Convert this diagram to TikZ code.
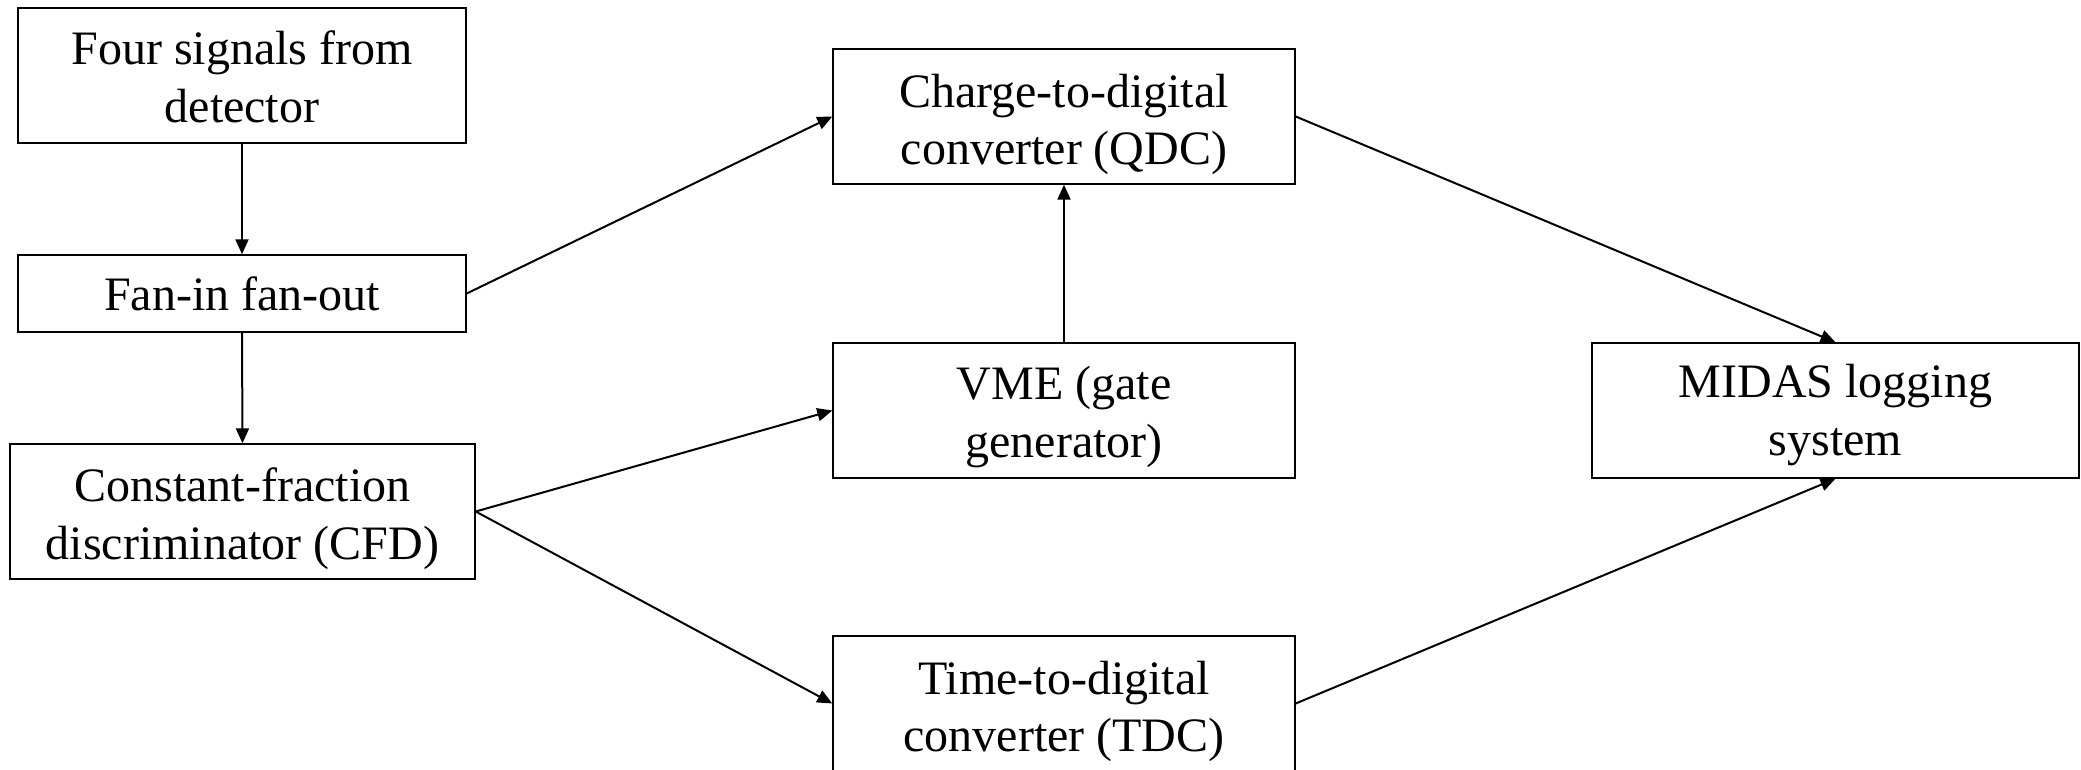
\documentclass[tikz,border=0pt]{standalone}
\usepackage{fontspec}
\setmainfont{Liberation Serif}
\usetikzlibrary{arrows.meta}
\begin{document}
\begin{tikzpicture}[x=1pt,y=-1pt,
  blk/.style={draw=black,line width=1.4pt,inner sep=0pt,minimum height=135pt},
  txt/.style={inner sep=0pt,align=center,font=\fontsize{48}{57.6}\selectfont},
  conn/.style={line width=2pt,-{Triangle[length=15pt,width=13pt]}}]
\useasboundingbox (0,0) rectangle (2081,770);
\node[blk,minimum width=448pt,label={[txt,yshift=-1.4pt]center:Four signals from\\detector}] (four) at (242,75.5) {};
\node[blk,minimum width=448pt,minimum height=77pt,label={[txt]center:Fan-in fan-out}] (fan) at (242,293.5) {};
\node[blk,minimum width=465pt,label={[txt,yshift=-7.2pt]center:Constant-fraction\\discriminator (CFD)}] (cfd) at (242.5,511.5) {};
\node[blk,minimum width=462pt,label={[txt,yshift=-8pt]center:Charge-to-digital\\converter (QDC)}] (qdc) at (1064,116.5) {};
\node[blk,minimum width=462pt,label={[txt,yshift=-6.8pt]center:VME (gate\\generator)}] (vme) at (1064,410.5) {};
\node[blk,minimum width=462pt,label={[txt,yshift=-8pt]center:Time-to-digital\\converter (TDC)}] (tdc) at (1064,703.5) {};
\node[blk,minimum width=487pt,label={[txt,yshift=-4.4pt]center:MIDAS logging\\system}] (midas) at (1835.5,410.5) {};
\draw[conn] (four.south) -- (fan.north);
\draw[conn] (fan.south) -- (cfd.north);
\draw[conn] (fan.east) -- (qdc.west);
\draw[conn] (cfd.east) -- (vme.west);
\draw[conn] (cfd.east) -- (tdc.west);
\draw[conn] (vme.north) -- (qdc.south);
\draw[conn] (qdc.east) -- (midas.north);
\draw[conn] (tdc.east) -- (midas.south);
\end{tikzpicture}
\end{document}
